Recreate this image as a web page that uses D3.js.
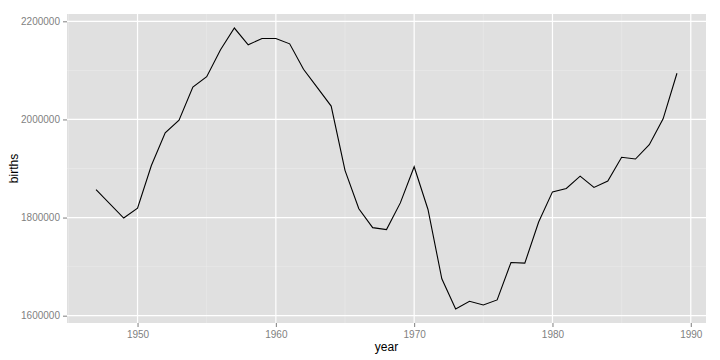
<!DOCTYPE html>
<html>
<head>
<meta charset="utf-8">
<script src="https://cdn.jsdelivr.net/npm/d3@7"></script>
<style>
  body { margin: 0; background: #fff; }
  text { font-family: "Liberation Sans", Arial, sans-serif; }
</style>
</head>
<body>
<div id="chart"></div>
<script>
// births per year (1948 is not in the series)
const years = [1947, 1949, 1950, 1951, 1952, 1953, 1954, 1955, 1956, 1957, 1958, 1959,
  1960, 1961, 1962, 1963, 1964, 1965, 1966, 1967, 1968, 1969, 1970, 1971, 1972, 1973,
  1974, 1975, 1976, 1977, 1978, 1979, 1980, 1981, 1982, 1983, 1984, 1985, 1986, 1987,
  1988, 1989];
const births = [1857000, 1799000, 1819000, 1906000, 1972600, 1998600, 2066100, 2087200,
  2141900, 2186300, 2152100, 2165000, 2165000, 2154100, 2102400, 2064700, 2027200,
  1896200, 1818000, 1779500, 1775400, 1829900, 1903600, 1816400, 1675100, 1613700,
  1629300, 1621900, 1632100, 1708500, 1707100, 1791000, 1852400, 1859400, 1884500,
  1861400, 1874300, 1922800, 1919300, 1948600, 2001200, 2094200];
const xTicks = [1950, 1960, 1970, 1980, 1990];
const yTicks = [1600000, 1800000, 2000000, 2200000];

const data = years.map((y, i) => ({year: y, births: births[i]}));

const margin = {top: 14, right: 14, bottom: 37, left: 67};
const width = 720 - margin.left - margin.right;
const height = 360 - margin.top - margin.bottom;

const svg = d3.select("#chart")
  .append("svg")
  .attr("width", 720)
  .attr("height", 360)
  .append("g")
  .attr("transform", `translate(${margin.left}, ${margin.top})`);

// ggplot style 5% expansion
const xExt = d3.extent(years);
const xPad = (xExt[1] - xExt[0]) * 0.05;
const yExt = d3.extent(births);
const yPad = (yExt[1] - yExt[0]) * 0.05;

const xScale = d3.scaleLinear()
  .domain([xExt[0] - xPad, xExt[1] + xPad])
  .range([0, width]);

const yScale = d3.scaleLinear()
  .domain([yExt[0] - yPad, yExt[1] + yPad])
  .range([height, 0]);

svg.append("rect")
  .attr("width", width)
  .attr("height", height)
  .attr("fill", "#e0e0e0");

// minor grid
const xMinor = xTicks.slice(0, -1).map(t => t + 5).concat([xTicks[0] - 5]);
const yMinor = yTicks.slice(0, -1).map(t => t + 100000);

svg.selectAll(".xminor")
  .data(xMinor.filter(t => xScale(t) >= 0 && xScale(t) <= width))
  .enter().append("line")
  .attr("x1", d => xScale(d)).attr("x2", d => xScale(d))
  .attr("y1", 0).attr("y2", height)
  .attr("stroke", "#ebebeb").attr("stroke-width", 0.6);

svg.selectAll(".yminor")
  .data(yMinor)
  .enter().append("line")
  .attr("y1", d => yScale(d)).attr("y2", d => yScale(d))
  .attr("x1", 0).attr("x2", width)
  .attr("stroke", "#ebebeb").attr("stroke-width", 0.6);

// major grid
svg.selectAll(".xmajor")
  .data(xTicks)
  .enter().append("line")
  .attr("x1", d => xScale(d)).attr("x2", d => xScale(d))
  .attr("y1", 0).attr("y2", height)
  .attr("stroke", "#fff").attr("stroke-width", 1.2);

svg.selectAll(".ymajor")
  .data(yTicks)
  .enter().append("line")
  .attr("y1", d => yScale(d)).attr("y2", d => yScale(d))
  .attr("x1", 0).attr("x2", width)
  .attr("stroke", "#fff").attr("stroke-width", 1.2);

const xAxis = d3.axisBottom(xScale)
  .tickValues(xTicks)
  .tickFormat(d3.format("d"))
  .tickSize(4)
  .tickPadding(4);

const yAxis = d3.axisLeft(yScale)
  .tickValues(yTicks)
  .tickFormat(d3.format("d"))
  .tickSize(4)
  .tickPadding(3);

const gx = svg.append("g")
  .attr("transform", `translate(0, ${height})`)
  .call(xAxis);
const gy = svg.append("g").call(yAxis);

[gx, gy].forEach(g => {
  g.select(".domain").remove();
  g.selectAll("line").attr("stroke", "#7f7f7f");
  g.selectAll("text")
    .attr("fill", "#7f7f7f")
    .attr("font-size", 10)
    .style("font-family", "'Liberation Sans', Arial, sans-serif");
});

const line = d3.line()
  .x(d => xScale(d.year))
  .y(d => yScale(d.births));

svg.append("path")
  .datum(data)
  .attr("d", line)
  .attr("fill", "none")
  .attr("stroke", "#000")
  .attr("stroke-width", 1.1);

svg.append("text")
  .attr("x", width / 2)
  .attr("y", height + 28)
  .attr("text-anchor", "middle")
  .attr("font-size", 12)
  .text("year");

svg.append("text")
  .attr("transform", "rotate(-90)")
  .attr("x", -height / 2)
  .attr("y", -margin.left + 18)
  .attr("text-anchor", "middle")
  .attr("font-size", 12)
  .text("births");
</script>
</body>
</html>
